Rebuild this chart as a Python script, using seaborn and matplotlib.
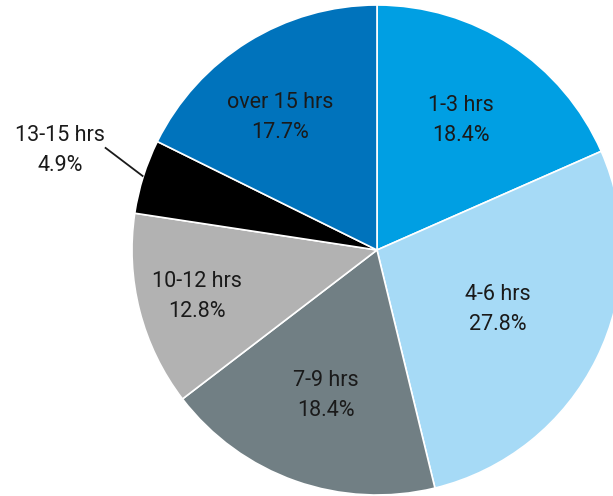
import numpy as np
import matplotlib
matplotlib.use("Agg")
import matplotlib.pyplot as plt
import seaborn as sns

categories = ["1-3 hrs", "4-6 hrs", "7-9 hrs", "10-12 hrs", "13-15 hrs", "over 15 hrs"]
values = [18.4, 27.8, 18.4, 12.8, 4.9, 17.7]
colors = ["#009fe3", "#a6daf6", "#717f84", "#b2b2b2", "#000000", "#0073bc"]
label_radius = [0.63, 0.55, 0.63, 0.76, 1.355, 0.67]
label_shift = [0, 0, 0, 0, 0, 4.4]

sns.set_theme(style="white")
plt.rcParams['font.family'] = ['Roboto', 'DejaVu Sans']

fig = plt.figure(figsize=(6.13, 4.96), dpi=100)
ax = fig.add_axes([0, 0, 1, 1])
wedges, _ = ax.pie(values, colors=colors, startangle=90, counterclock=False,
                   radius=1.0, center=(0, 0),
                   wedgeprops=dict(edgecolor="white", linewidth=1.2))
ax.set_xlim(-1.5388, 0.9633)
ax.set_ylim(-1.004, 1.0204)
ax.set_aspect("equal")
ax.axis("off")

for w, cat, v, r, s in zip(wedges, categories, values, label_radius, label_shift):
    mid = (w.theta1 + w.theta2) / 2
    ang = np.deg2rad(mid + s)
    x, y = r * np.cos(ang), r * np.sin(ang)
    ax.text(x, y, f"{cat}\n{v:.1f}%", ha="center", va="center",
            fontsize=15.5, color="#1a1a1a", linespacing=1.55)
    if r > 1:
        ang2 = np.deg2rad(mid - 3.2)
        ax.plot([np.cos(ang), 1.187 * np.cos(ang2)],
                [np.sin(ang), 1.187 * np.sin(ang2)], color="#1a1a1a", lw=1.3,
                solid_capstyle="butt")

fig.savefig("out.png", dpi=100)
